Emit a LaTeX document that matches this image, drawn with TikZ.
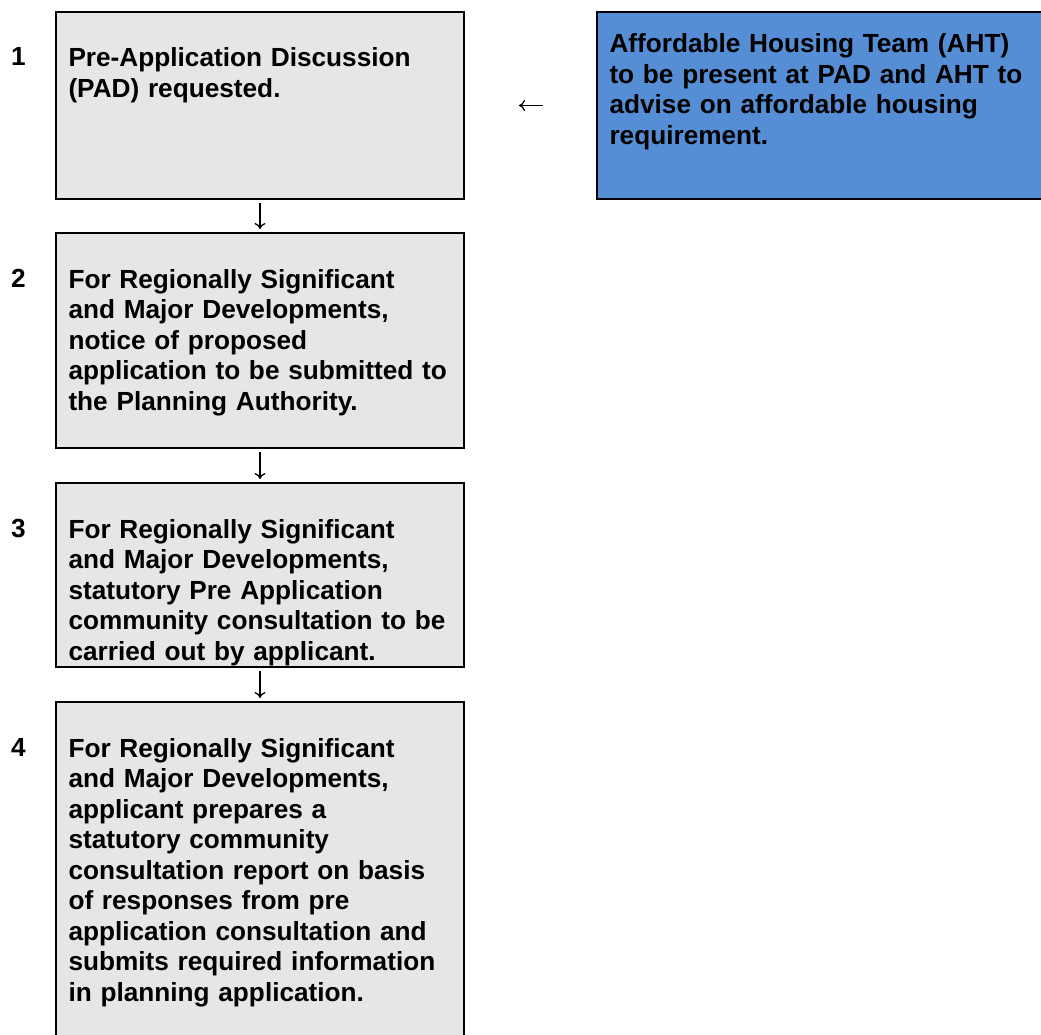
\documentclass[tikz,border=0pt]{standalone}
\usepackage{fontspec}
\setmainfont{Liberation Sans}
\usepackage{xcolor}
\usepackage{tikz}
\usetikzlibrary{positioning,arrows.meta}
\definecolor{boxgrey}{HTML}{E6E6E6}
\definecolor{ahtblue}{HTML}{558ED5}
\newcommand\steptext{\fontsize{26.2}{30.5}\selectfont\bfseries}

\tikzset{
 stepbox/.style={draw, line width=2pt, fill=boxgrey, anchor=north west,
   inner xsep=12.5pt, inner ysep=0pt, text width=383pt, align=left,
   font=\steptext, text height=55pt},
 ahtbox/.style={stepbox, fill=ahtblue, text width=441pt, text height=41pt},
 numlabel/.style={anchor=base west, inner sep=0pt, font=\steptext},
 flowarrow/.style={-{To[length=6pt,width=11pt]}, line width=1.3pt,
   shorten <=3pt, shorten >=3pt},
}

\begin{document}
\begin{tikzpicture}[x=1pt,y=1pt]
\useasboundingbox (0,0) rectangle (1041,-1035);
\clip (0,0) rectangle (1041,-1035);
\node[stepbox, text depth=132pt] (b1) at (55,-11)
 {Pre-Application Discussion\\(PAD) requested.};
\node[stepbox, text depth=160pt, below=32pt of b1] (b2)
 {For Regionally Significant\\and Major Developments,\\notice of proposed\\application to be submitted to\\the Planning Authority.};
\node[stepbox, text depth=129pt, below=33pt of b2] (b3)
 {For Regionally Significant\\and Major Developments,\\statutory Pre Application\\community consultation to be\\carried out by applicant.};
\node[stepbox, text depth=301pt, below=33pt of b3] (b4)
 {For Regionally Significant\\and Major Developments,\\applicant prepares a\\statutory community\\consultation report on basis\\of responses from pre\\application consultation and\\submits required information\\in planning application.};
\node[ahtbox, text depth=146pt, right=131pt of b1.north east, anchor=north west] (aht)
 {Affordable Housing Team (AHT)\\to be present at PAD and AHT to\\advise on affordable housing\\requirement.};
% step numbers
\foreach \i in {1,...,4}
 \node[numlabel] (n\i) at ([xshift=-44pt,yshift=-55pt]b\i.north west) {\i};
% arrows
\foreach \a/\b in {b1/b2,b2/b3,b3/b4}
 \draw[flowarrow] (\a) -- (\b);
\draw[flowarrow, shorten <=53pt, shorten >=54pt] (aht) -- (b1);
\end{tikzpicture}
\end{document}
